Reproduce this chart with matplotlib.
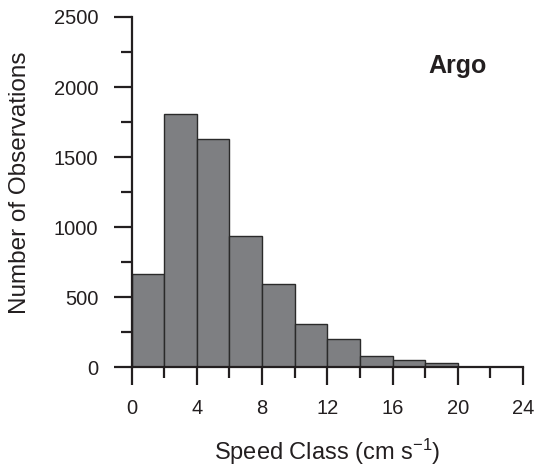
import matplotlib
matplotlib.use("Agg")
import matplotlib.pyplot as plt
from matplotlib.ticker import MultipleLocator
import numpy as np

plt.rcParams['font.family'] = ['Liberation Sans', 'DejaVu Sans']
plt.rcParams['mathtext.fontset'] = 'custom'
plt.rcParams['mathtext.rm'] = 'Liberation Sans'
plt.rcParams['mathtext.it'] = 'Liberation Sans'
plt.rcParams['mathtext.default'] = 'rm'

# Speed-class bins (cm/s) and observation counts
bin_edges = [0, 2, 4, 6, 8, 10, 12, 14, 16, 18, 20]
counts = [668, 1805, 1628, 938, 591, 305, 200, 81, 50, 26]
x_ticks = [0, 4, 8, 12, 16, 20, 24]
y_ticks = [0, 500, 1000, 1500, 2000, 2500]

fig = plt.figure(figsize=(5.37, 4.67), dpi=100)
ax = fig.add_axes([0.245, 0.214, 0.729, 0.7496])

left = np.array(bin_edges[:-1])
widths = np.diff(bin_edges)
ax.bar(left, counts, width=widths, align='edge', color='#7e7f82',
       edgecolor='#2a2a2a', linewidth=1.0, zorder=2)

ax.set_xlim(0, 24)
ax.set_ylim(0, 2500)
ax.set_xticks(x_ticks)
ax.set_yticks(y_ticks)
ax.xaxis.set_minor_locator(MultipleLocator(2))
ax.yaxis.set_minor_locator(MultipleLocator(250))

for side in ('top', 'right'):
    ax.spines[side].set_visible(False)
for side in ('left', 'bottom'):
    ax.spines[side].set_linewidth(1.6)
    ax.spines[side].set_color('#231f20')
    ax.spines[side].set_zorder(3)

ax.tick_params(axis='both', which='major', direction='out', length=13,
               width=1.6, color='#231f20', labelsize=14.5,
               labelcolor='#231f20')
ax.tick_params(axis='both', which='minor', direction='out', length=7.7,
               width=1.6, color='#231f20')
ax.tick_params(axis='x', which='major', pad=10)
ax.tick_params(axis='y', which='major', pad=11)

ax.set_xlabel('Speed Class (cm s$^{-1}$)', fontsize=17, color='#231f20')
ax.xaxis.label.set_va('baseline')
ax.xaxis.set_label_coords(0.5, -0.266)

ax.set_ylabel('Number of Observations', fontsize=17.5, color='#231f20')
ax.yaxis.label.set_va('center')
ax.yaxis.set_label_coords(-0.285, 0.526)

ax.text(0.834, 0.84, 'Argo', transform=ax.transAxes, fontsize=18,
        fontweight='bold', color='#231f20', ha='center', va='baseline')

fig.savefig('out.png', dpi=100)
